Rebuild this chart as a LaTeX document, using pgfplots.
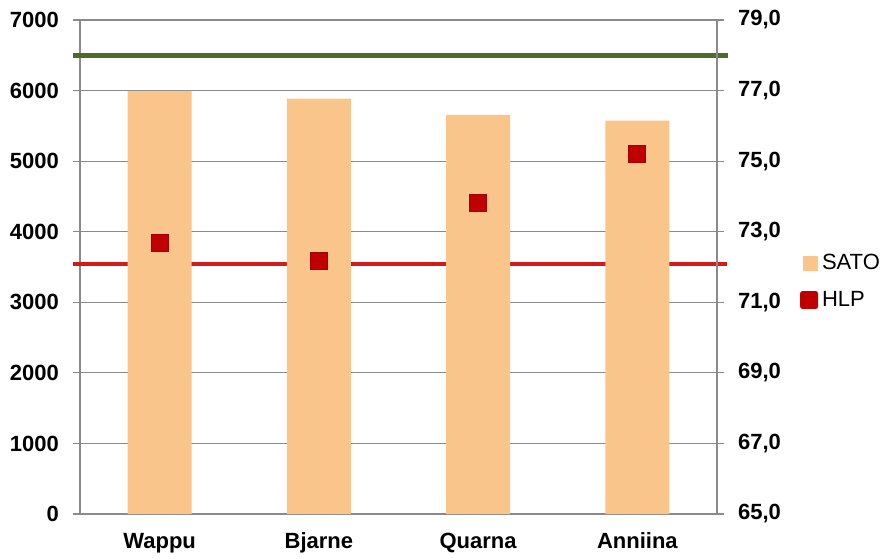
\documentclass[border=0pt]{standalone}
\usepackage{fontspec}
\setmainfont{Liberation Sans}
\usepackage{pgfplots}
\pgfplotsset{compat=1.18}
\definecolor{satocol}{HTML}{FAC58A}
\definecolor{hlpcol}{HTML}{C00000}
\definecolor{hlpedge}{HTML}{A00000}
\definecolor{redline}{HTML}{D41A1A}
\definecolor{greenline}{HTML}{4F6B28}
\definecolor{gridgray}{HTML}{8A8A8A}
\begin{document}
\begin{tikzpicture}
\path[use as bounding box] (-40pt,-22pt) rectangle (402.5pt,257pt);
\begin{axis}[
  scale only axis, width=318.5pt, height=247pt,
  xmin=-0.5, xmax=3.5, ymin=0, ymax=7000,
  axis x line*=bottom, axis y line*=left,
  axis line style={gridgray, line width=0.6pt},
  ytick={0,1000,...,7000},
  ymajorgrids, major grid style={gridgray, line width=0.6pt},
  tick align=outside, major tick length=3.5pt,
  tick style={gridgray, line width=0.6pt},
  xtick={0,1,2,3}, xticklabels={Wappu,Bjarne,Quarna,Anniina},
  x tick style={draw=none},
  extra x ticks={-0.5,0.5,1.5,2.5,3.5}, extra x tick labels={},
  extra x tick style={tick style={gridgray, line width=0.6pt}, major tick length=3.5pt},
  xticklabel style={font=\fontsize{11}{13}\selectfont\bfseries, anchor=base, yshift=-13.5pt},
  yticklabel style={font=\fontsize{11}{13}\selectfont\bfseries, xshift=-3.5pt},
  /pgf/number format/assume math mode=true,
  /pgf/number format/1000 sep={},
  clip=false,
]
\addplot[redline, line width=2pt] coordinates {(-0.544,3545) (3.56,3545)};
\addplot[ybar, bar width=32pt, bar shift=0pt, fill=satocol, draw=none] coordinates {(0,5995) (1,5885) (2,5655) (3,5575)};
\addplot[greenline, line width=2.5pt] coordinates {(-0.544,6500) (3.569,6500)};
\end{axis}
\begin{axis}[
  scale only axis, width=318.5pt, height=247pt,
  xmin=-0.5, xmax=3.5, ymin=65, ymax=79,
  hide x axis,
  axis y line*=right,
  axis line style={gridgray, line width=0.6pt},
  ytick={65,67,...,79},
  tick align=outside, major tick length=3.5pt,
  tick style={gridgray, line width=0.6pt},
  yticklabel style={font=\fontsize{11}{13}\selectfont\bfseries, xshift=3.5pt},
  /pgf/number format/assume math mode=true,
  /pgf/number format/.cd, fixed, fixed zerofill, precision=1, use comma,
  /pgfplots/.cd,
  clip=false,
  legend style={draw=none, fill=none, at={(rel axis cs:1.13,0.47)}, anchor=west,
    font=\fontsize{11}{13}\selectfont, cells={anchor=west, inner xsep=1.5pt}, row sep=5pt, inner sep=0pt},
]
\addlegendimage{legend image code/.code={\fill[satocol] (1pt,-3.5pt) rectangle (8pt,3.5pt);}}
\addlegendentry{SATO}
\addplot[only marks, mark=square*, mark size=4.25pt, mark options={fill=hlpcol, draw=hlpedge, line width=0.4pt},
  legend image code/.code={\fill[hlpcol, rounded corners=1pt] (-0.5pt,-4.25pt) rectangle (8pt,4.25pt);}]
  coordinates {(0,72.68) (1,72.17) (2,73.82) (3,75.2)};
\addlegendentry{HLP}
\end{axis}
\end{tikzpicture}
\end{document}
